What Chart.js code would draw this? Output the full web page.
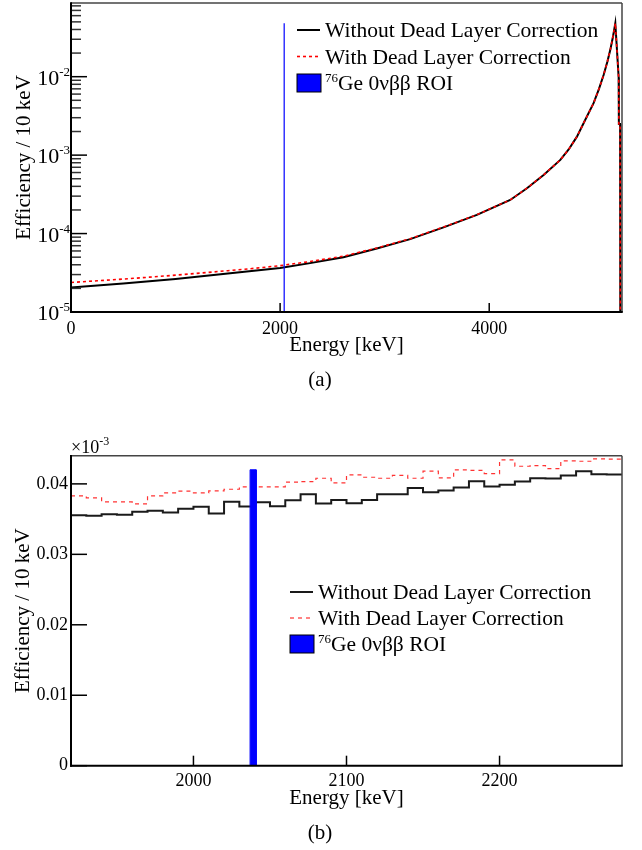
<!DOCTYPE html>
<html>
<head>
<meta charset="utf-8">
<script src="https://cdn.jsdelivr.net/npm/chart.js@4.4.0/dist/chart.umd.min.js"></script>
<style>
body { margin: 0; background: #fff; width: 642px; height: 850px; position: relative; overflow: hidden; }
#chartA { position: absolute; left: 0; top: 0; }
#chartB { position: absolute; left: 0; top: 400px; }
</style>
</head>
<body>
<canvas id="chartA" width="642" height="400"></canvas>
<canvas id="chartB" width="642" height="450"></canvas>
<script>
// ---- panel (a): full spectrum, log y ----
var energyA = [0, 250, 500, 750, 1000, 1250, 1500, 1750, 2000, 2287,
               2606, 2925, 3244, 3563, 3882, 4201, 4361, 4520, 4680, 4760,
               4839, 4920, 4998, 5050, 5094, 5130, 5158, 5185, 5206, 5238,
               5240, 5252, 5255, 5270];
var withoutDLA = [2.05e-5, 2.18e-5, 2.31e-5, 2.46e-5, 2.64e-5, 2.86e-5, 3.10e-5, 3.36e-5, 3.64e-5, 4.20e-5,
                  5.00e-5, 6.45e-5, 8.50e-5, 1.20e-4, 1.73e-4, 2.68e-4, 3.78e-4, 5.59e-4, 8.69e-4, 1.18e-3,
                  1.72e-3, 2.85e-3, 4.59e-3, 7.0e-3, 1.05e-2, 1.55e-2, 2.2e-2, 3.3e-2, 4.8e-2, 9.8e-3,
                  2.5e-3, 2.5e-3, 1e-7, 1e-7];
var withDLA = [2.38e-5, 2.50e-5, 2.63e-5, 2.78e-5, 2.95e-5, 3.15e-5, 3.36e-5, 3.60e-5, 3.90e-5, 4.40e-5,
               5.15e-5, 6.55e-5, 8.60e-5, 1.21e-4, 1.74e-4, 2.69e-4, 3.79e-4, 5.60e-4, 8.70e-4, 1.18e-3,
               1.72e-3, 2.85e-3, 4.59e-3, 7.0e-3, 1.05e-2, 1.55e-2, 2.2e-2, 3.3e-2, 4.8e-2, 9.8e-3,
               2.5e-3, 2.5e-3, 1e-7, 1e-7];
var xTicksA = [0, 2000, 4000];
var yTicksA = [1e-5, 1e-4, 1e-3, 1e-2];
var yMinorA = [2, 3, 4, 5, 6, 7, 8, 9];

// ---- panel (b): zoom around Q-value, 10 keV bins ----
var edgesB = [1920, 1930, 1940, 1950, 1960, 1970, 1980, 1990, 2000, 2010,
              2020, 2030, 2040, 2050, 2060, 2070, 2080, 2090, 2100, 2110,
              2120, 2130, 2140, 2150, 2160, 2170, 2180, 2190, 2200, 2210,
              2220, 2230, 2240, 2250, 2260, 2270, 2280];
var withoutB = [0.03556, 0.03547, 0.0357, 0.03561, 0.03603, 0.03617, 0.03594, 0.03646, 0.03674, 0.0358,
                0.03745, 0.03679, 0.0374, 0.03684, 0.03768, 0.03853, 0.03721, 0.03773, 0.03726, 0.03773,
                0.03853, 0.03853, 0.03943, 0.03882, 0.03905, 0.03947, 0.04037, 0.03962, 0.03986, 0.04033,
                0.0408, 0.04075, 0.04118, 0.0418, 0.04137, 0.04132];
var withB = [0.0383, 0.03802, 0.03745, 0.03745, 0.03717, 0.0383, 0.03872, 0.03896, 0.03872, 0.03901,
             0.03924, 0.03957, 0.03957, 0.03957, 0.04024, 0.04033, 0.0408, 0.04014, 0.04127, 0.04094,
             0.0408, 0.0412, 0.0408, 0.0418, 0.04085, 0.04198, 0.04193, 0.04146, 0.0434, 0.0425,
             0.0426, 0.04217, 0.04326, 0.04321, 0.04354, 0.0435];
var xTicksB = [2000, 2100, 2200];
var yTicksB = [0, 0.01, 0.02, 0.03, 0.04];
var yTickLabelsB = ['0', '0.01', '0.02', '0.03', '0.04'];

// ROI of 76Ge 0vbb
var roiCenter = 2039;
var roiLow = 2037, roiHigh = 2041;
var roiTopA = 0.048, roiTopB = 0.042;

var FONT = '"Liberation Serif", "Times New Roman", serif';
Chart.defaults.font.family = FONT;
Chart.defaults.color = '#000';

function pts(xs, ys) {
    return xs.map(function(x, i) { return {x: x, y: ys[i]}; });
}
function histPts(edges, vals) {
    var out = vals.map(function(v, i) { return {x: edges[i], y: v}; });
    out.push({x: edges[edges.length - 1], y: vals[vals.length - 1]});
    return out;
}

function drawSup(ctx, x, y, base, sup, baseSize, supSize, rise) {
    ctx.font = baseSize + 'px ' + FONT;
    ctx.fillText(base, x, y);
    var w = ctx.measureText(base).width;
    ctx.font = supSize + 'px ' + FONT;
    ctx.fillText(sup, x + w, y - rise);
}

// ROOT-like frame: inward ticks, log labels, titles, legend
var rootFramePlugin = {
    id: 'rootframe',
    afterDraw(chart, args, o) {
        var ctx = chart.ctx, area = chart.chartArea;
        var xs = chart.scales.x, ys = chart.scales.y;
        function seg(x1, y1, x2, y2) { ctx.beginPath(); ctx.moveTo(x1, y1); ctx.lineTo(x2, y2); ctx.stroke(); }
        ctx.save();
        ctx.strokeStyle = '#000';
        ctx.lineWidth = 1.5;
        o.xTicks.forEach(function(v) {
            var p = xs.getPixelForValue(v);
            seg(p, area.bottom, p, area.bottom - o.xTickLen);
        });
        o.yTicks.forEach(function(v) {
            var p = ys.getPixelForValue(v);
            seg(area.left, p, area.left + o.yTickLen, p);
        });
        if (o.yMinor) {
            ctx.strokeStyle = '#333';
            o.yTicks.forEach(function(d) {
                o.yMinor.forEach(function(m) {
                    var v = d * m;
                    if (v > ys.max) return;
                    var p = ys.getPixelForValue(v);
                    seg(area.left, p, area.left + o.yMinorLen, p);
                });
            });
        }
        // frame
        ctx.strokeStyle = '#444';
        ctx.lineWidth = 1.5;
        seg(area.left, area.top, area.right, area.top);
        seg(area.right, area.top, area.right, area.bottom);
        ctx.strokeStyle = '#000';
        ctx.lineWidth = 2;
        seg(area.left, area.top - 0.75, area.left, area.bottom + 1);
        seg(area.left - 1, area.bottom, area.right + 0.75, area.bottom);

        ctx.fillStyle = '#000';
        ctx.textAlign = 'left';
        ctx.textBaseline = 'alphabetic';
        // log labels 10^n
        if (o.logLabels) {
            o.yTicks.forEach(function(v) {
                var p = ys.getPixelForValue(v);
                var ex = String(Math.round(Math.log10(v)));
                ctx.font = '13px ' + FONT;
                var we = ctx.measureText(ex).width;
                ctx.font = '22px ' + FONT;
                var wb = ctx.measureText('10').width;
                drawSup(ctx, area.left - 1 - we - wb, p + 8, '10', ex, 22, 13, 9);
            });
        }
        if (o.multiplier) {
            drawSup(ctx, area.left, o.multiplier.y, '\u00d710', '-3', 18, 12, 8);
        }
        // axis titles
        ctx.font = '21px ' + FONT;
        ctx.textAlign = 'center';
        ctx.textBaseline = 'middle';
        ctx.fillText(o.xTitle, (area.left + area.right) / 2, o.xTitleY);
        ctx.fillText(o.panel, o.panelX, o.panelY);
        ctx.save();
        ctx.translate(o.yTitleX, (area.top + area.bottom) / 2);
        ctx.rotate(-Math.PI / 2);
        ctx.fillText(o.yTitle, 0, 0);
        ctx.restore();

        // legend
        var lg = o.legend;
        ctx.textAlign = 'left';
        lg.items.forEach(function(it, i) {
            var ds = chart.data.datasets[it.ds];
            var y = lg.y + i * lg.dy;
            if (it.box) {
                ctx.fillStyle = ds.borderColor;
                ctx.fillRect(lg.x, y - 9, lg.lineLen + 1, 18);
                ctx.strokeStyle = '#000';
                ctx.lineWidth = 1;
                ctx.setLineDash([]);
                ctx.strokeRect(lg.x, y - 9, lg.lineLen + 1, 18);
            } else {
                ctx.strokeStyle = ds.borderColor;
                ctx.lineWidth = ds.borderWidth;
                ctx.setLineDash(ds.borderDash || []);
                seg(lg.x, y, lg.x + lg.lineLen, y);
                ctx.setLineDash([]);
            }
            ctx.fillStyle = '#000';
            ctx.textBaseline = 'alphabetic';
            if (it.sup) {
                ctx.font = '13px ' + FONT;
                ctx.fillText(it.sup, lg.textX, y - 1);
                var ws = ctx.measureText(it.sup).width;
                ctx.font = '21.5px ' + FONT;
                ctx.fillText(it.text, lg.textX + ws, y + 7);
            } else {
                ctx.font = '21.5px ' + FONT;
                ctx.fillText(it.text, lg.textX, y + 7);
            }
        });
        ctx.restore();
    }
};

function baseOptions(pad) {
    return {
        responsive: false,
        animation: false,
        events: [],
        layout: { padding: pad },
        elements: { point: { radius: 0 }, line: { tension: 0 } },
        plugins: { legend: { display: false }, tooltip: { enabled: false } }
    };
}

var optsA = baseOptions({top: 3, right: 20, bottom: 0, left: 0});
optsA.scales = {
    x: {
        type: 'linear', min: 0, max: 5270,
        grid: { display: false, drawTicks: false },
        border: { display: false },
        afterBuildTicks: function(s) { s.ticks = xTicksA.map(function(v) { return {value: v}; }); },
        afterFit: function(s) { s.height = 88; },
        ticks: { padding: 6, maxRotation: 0, autoSkip: false, font: { size: 18 },
                 callback: function(v) { return String(v); } }
    },
    y: {
        type: 'logarithmic', min: 1e-5, max: 0.087,
        grid: { display: false, drawTicks: false },
        border: { display: false },
        ticks: { display: false },
        afterFit: function(s) { s.width = 71; }
    }
};
optsA.plugins.rootframe = {
    xTicks: xTicksA, xTickLen: 9,
    yTicks: yTicksA, yTickLen: 16, yMinor: yMinorA, yMinorLen: 10,
    logLabels: true,
    xTitle: 'Energy [keV]', xTitleY: 345,
    yTitle: 'Efficiency / 10 keV', yTitleX: 24,
    panel: '(a)', panelX: 320, panelY: 380,
    legend: { x: 297, y: 30, dy: 26.5, lineLen: 23, textX: 325,
        items: [
            { ds: 2, text: 'Without Dead Layer Correction' },
            { ds: 1, text: 'With Dead Layer Correction' },
            { ds: 0, text: 'Ge 0\u03bd\u03b2\u03b2 ROI', sup: '76', box: true }
        ] }
};

var chartA = new Chart(document.getElementById('chartA'), {
    type: 'line',
    data: { datasets: [
        { label: 'ROI', data: [{x: roiCenter, y: 1e-5}, {x: roiCenter, y: roiTopA}],
          borderColor: '#0000ff', borderWidth: 1.2, order: 0 },
        { label: 'With Dead Layer Correction', data: pts(energyA, withDLA),
          borderColor: '#ff0000', borderWidth: 1.6, borderDash: [3, 3], order: 1 },
        { label: 'Without Dead Layer Correction', data: pts(energyA, withoutDLA),
          borderColor: '#000000', borderWidth: 2, order: 2 }
    ] },
    options: optsA,
    plugins: [rootFramePlugin]
});

var optsB = baseOptions({top: 55.7, right: 20, bottom: 0, left: 0});
optsB.scales = {
    x: {
        type: 'linear', min: 1920, max: 2280,
        grid: { display: false, drawTicks: false },
        border: { display: false },
        afterBuildTicks: function(s) { s.ticks = xTicksB.map(function(v) { return {value: v}; }); },
        afterFit: function(s) { s.height = 84.3; },
        ticks: { padding: 5, maxRotation: 0, autoSkip: false, font: { size: 18 },
                 callback: function(v) { return String(v); } }
    },
    y: {
        type: 'linear', min: 0, max: 0.044,
        grid: { display: false, drawTicks: false },
        border: { display: false },
        afterBuildTicks: function(s) { s.ticks = yTicksB.map(function(v) { return {value: v}; }); },
        afterFit: function(s) { s.width = 71; },
        ticks: { padding: 3, font: { size: 18 },
                 callback: function(v, i) { return yTickLabelsB[i]; } }
    }
};
optsB.plugins.rootframe = {
    xTicks: xTicksB, xTickLen: 10,
    yTicks: yTicksB, yTickLen: 16,
    multiplier: { y: 53 },
    xTitle: 'Energy [keV]', xTitleY: 398,
    yTitle: 'Efficiency / 10 keV', yTitleX: 23,
    panel: '(b)', panelX: 320, panelY: 433,
    legend: { x: 290, y: 192, dy: 26, lineLen: 23, textX: 318,
        items: [
            { ds: 2, text: 'Without Dead Layer Correction' },
            { ds: 1, text: 'With Dead Layer Correction' },
            { ds: 0, text: 'Ge 0\u03bd\u03b2\u03b2 ROI', sup: '76', box: true }
        ] }
};

var chartB = new Chart(document.getElementById('chartB'), {
    type: 'line',
    data: { datasets: [
        { label: 'ROI', data: [{x: roiLow, y: 0}, {x: roiLow, y: roiTopB}, {x: roiHigh, y: roiTopB}, {x: roiHigh, y: 0}],
          borderColor: '#0000ff', backgroundColor: '#0000ff', borderWidth: 1, fill: 'origin', order: 0 },
        { label: 'With Dead Layer Correction', data: histPts(edgesB, withB), stepped: 'before',
          borderColor: '#ff3333', borderWidth: 1.2, borderDash: [4, 4], order: 1 },
        { label: 'Without Dead Layer Correction', data: histPts(edgesB, withoutB), stepped: 'before',
          borderColor: '#1a1a1a', borderWidth: 2, order: 2 }
    ] },
    options: optsB,
    plugins: [rootFramePlugin]
});
</script>
</body>
</html>
